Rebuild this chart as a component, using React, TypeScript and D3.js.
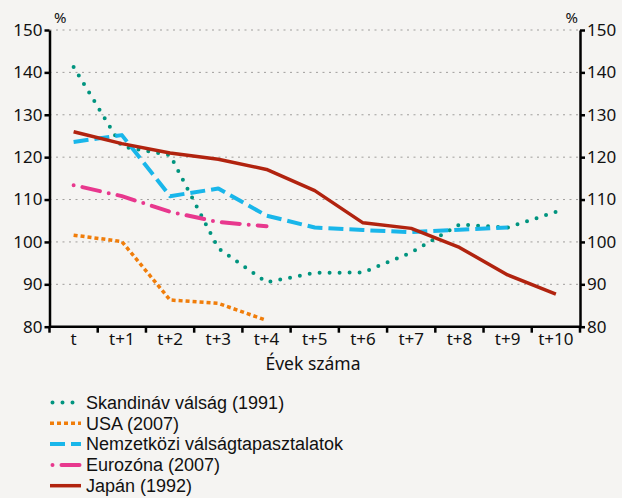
import { useEffect, useRef } from 'react';
import * as d3 from 'd3';

const periods = ['t', 't+1', 't+2', 't+3', 't+4', 't+5', 't+6', 't+7', 't+8', 't+9', 't+10'];
const yTicks = [80, 90, 100, 110, 120, 130, 140, 150];

const skandinav = [141.3, 122.5, 120.5, 98.5, 90.5, 92.7, 92.8, 97.5, 104.1, 103.4, 107.1];
const usa = [101.6, 100.1, 86.3, 85.5, 81.5];
const nemzetkozi = [123.6, 125.2, 110.8, 112.6, 106.2, 103.4, 102.8, 102.3, 102.9, 103.4];
const eurozona = [113.4, 110.8, 107.1, 104.7, 103.7];
const japan = [126.0, 123.2, 121.0, 119.5, 117.1, 112.1, 104.5, 103.2, 98.7, 92.2, 87.7];

const seriesNames = [
  'Skandináv válság (1991)',
  'USA (2007)',
  'Nemzetközi válságtapasztalatok',
  'Eurozóna (2007)',
  'Japán (1992)',
];

const App = () => {
  const svgRef = useRef<SVGSVGElement>(null);

  useEffect(() => {
    const root = d3.select(svgRef.current);
    root.selectAll('*').remove();

    const W = 622;
    const H = 498;
    const left = 49.5;
    const right = 580;
    const top = 30;
    const bottom = 326.7;
    const font = '"Noto Sans", sans-serif';
    const legendFont = '"Liberation Sans", Arial, sans-serif';

    root.append('rect').attr('width', W).attr('height', H).attr('fill', '#f5f4f2');

    const x = d3.scaleBand().domain(periods).range([left, right]);
    const y = d3.scaleLinear().domain([80, 150]).range([bottom, top]);

    // gridlines
    root
      .append('g')
      .selectAll('line')
      .data(yTicks.filter((d) => d > 80))
      .join('line')
      .attr('x1', left)
      .attr('x2', right)
      .attr('y1', (d) => y(d))
      .attr('y2', (d) => y(d))
      .attr('stroke', '#a09e9c')
      .attr('stroke-width', 1)
      .attr('stroke-dasharray', '2 4.5');

    // axes
    const axisStyle = (g: any) => {
      g.selectAll('.domain').attr('stroke', '#000').attr('stroke-width', 2.5);
      g.selectAll('.tick line').attr('stroke', '#000').attr('stroke-width', 2.5);
      g.selectAll('.tick text')
        .attr('fill', '#111')
        .style('font-family', font)
        .style('font-size', '17px');
    };

    root
      .append('g')
      .attr('transform', `translate(${left},0)`)
      .call(d3.axisLeft(y).tickValues(yTicks).tickSize(5).tickSizeOuter(0).tickPadding(2))
      .call(axisStyle);

    root
      .append('g')
      .attr('transform', `translate(${right},0)`)
      .call(d3.axisRight(y).tickValues(yTicks).tickSize(5).tickSizeOuter(0).tickPadding(2))
      .call(axisStyle);

    const xAxis = root
      .append('g')
      .attr('transform', `translate(0,${bottom})`)
      .call(d3.axisBottom(x).tickSize(0).tickPadding(6))
      .call(axisStyle);
    xAxis.selectAll('.domain').attr('d', `M${left},0H${right}`);

    // x tick marks at band boundaries
    root
      .append('g')
      .selectAll('line')
      .data(d3.range(periods.length + 1))
      .join('line')
      .attr('x1', (i) => left + i * x.step())
      .attr('x2', (i) => left + i * x.step())
      .attr('y1', bottom)
      .attr('y2', bottom + 6)
      .attr('stroke', '#000')
      .attr('stroke-width', 2.5);

    // % labels
    root
      .append('text')
      .attr('x', 54)
      .attr('y', 23)
      .style('font-family', font)
      .style('font-size', '15px')
      .attr('fill', '#111')
      .text('%');
    root
      .append('text')
      .attr('x', 578)
      .attr('y', 23)
      .attr('text-anchor', 'end')
      .style('font-family', font)
      .style('font-size', '15px')
      .attr('fill', '#111')
      .text('%');

    root
      .append('text')
      .attr('x', 313)
      .attr('y', 370)
      .attr('text-anchor', 'middle')
      .style('font-family', font)
      .style('font-size', '17.5px')
      .attr('fill', '#111')
      .text('Évek száma');

    const styles = [
      { data: skandinav, color: '#00947f', width: 4, dash: '0 10', cap: 'round' },
      { data: usa, color: '#f07d0a', width: 3.5, dash: '4 3', cap: 'butt' },
      { data: nemzetkozi, color: '#19b6ea', width: 4, dash: '15 6', cap: 'butt' },
      { data: eurozona, color: '#e8388e', width: 4, dash: '0 9 18 9', cap: 'round' },
      { data: japan, color: '#b1230f', width: 3.5, dash: null, cap: 'butt' },
    ];

    const line = d3
      .line<number>()
      .x((_, i) => (x(periods[i]) as number) + x.bandwidth() / 2)
      .y((d) => y(d));

    styles.forEach((s) => {
      root
        .append('path')
        .datum(s.data)
        .attr('fill', 'none')
        .attr('stroke', s.color)
        .attr('stroke-width', s.width)
        .attr('stroke-linecap', s.cap)
        .attr('stroke-linejoin', 'round')
        .attr('stroke-dasharray', s.dash)
        .attr('d', line);
    });

    // legend
    const legend = root
      .append('g')
      .selectAll('g')
      .data(styles)
      .join('g')
      .attr('transform', (_, i) => `translate(0,${402.5 + i * 20.8})`);

    legend
      .append('line')
      .attr('x1', (d) => (d.cap === 'round' ? 52.5 : 50))
      .attr('x2', 81)
      .attr('y1', 0)
      .attr('y2', 0)
      .attr('stroke', (d) => d.color)
      .attr('stroke-width', (d) => d.width)
      .attr('stroke-linecap', (d) => d.cap)
      .attr('stroke-dasharray', (d) => d.dash);

    legend
      .append('text')
      .attr('x', 86)
      .attr('y', 0)
      .attr('dy', '0.35em')
      .style('font-family', legendFont)
      .style('font-size', '18px')
      .attr('fill', '#111')
      .text((_, i) => seriesNames[i]);
  }, []);

  return (
    <svg
      ref={svgRef}
      width={622}
      height={498}
      style={{ position: 'absolute', left: 0, top: 0, display: 'block' }}
    />
  );
};

export default App;
